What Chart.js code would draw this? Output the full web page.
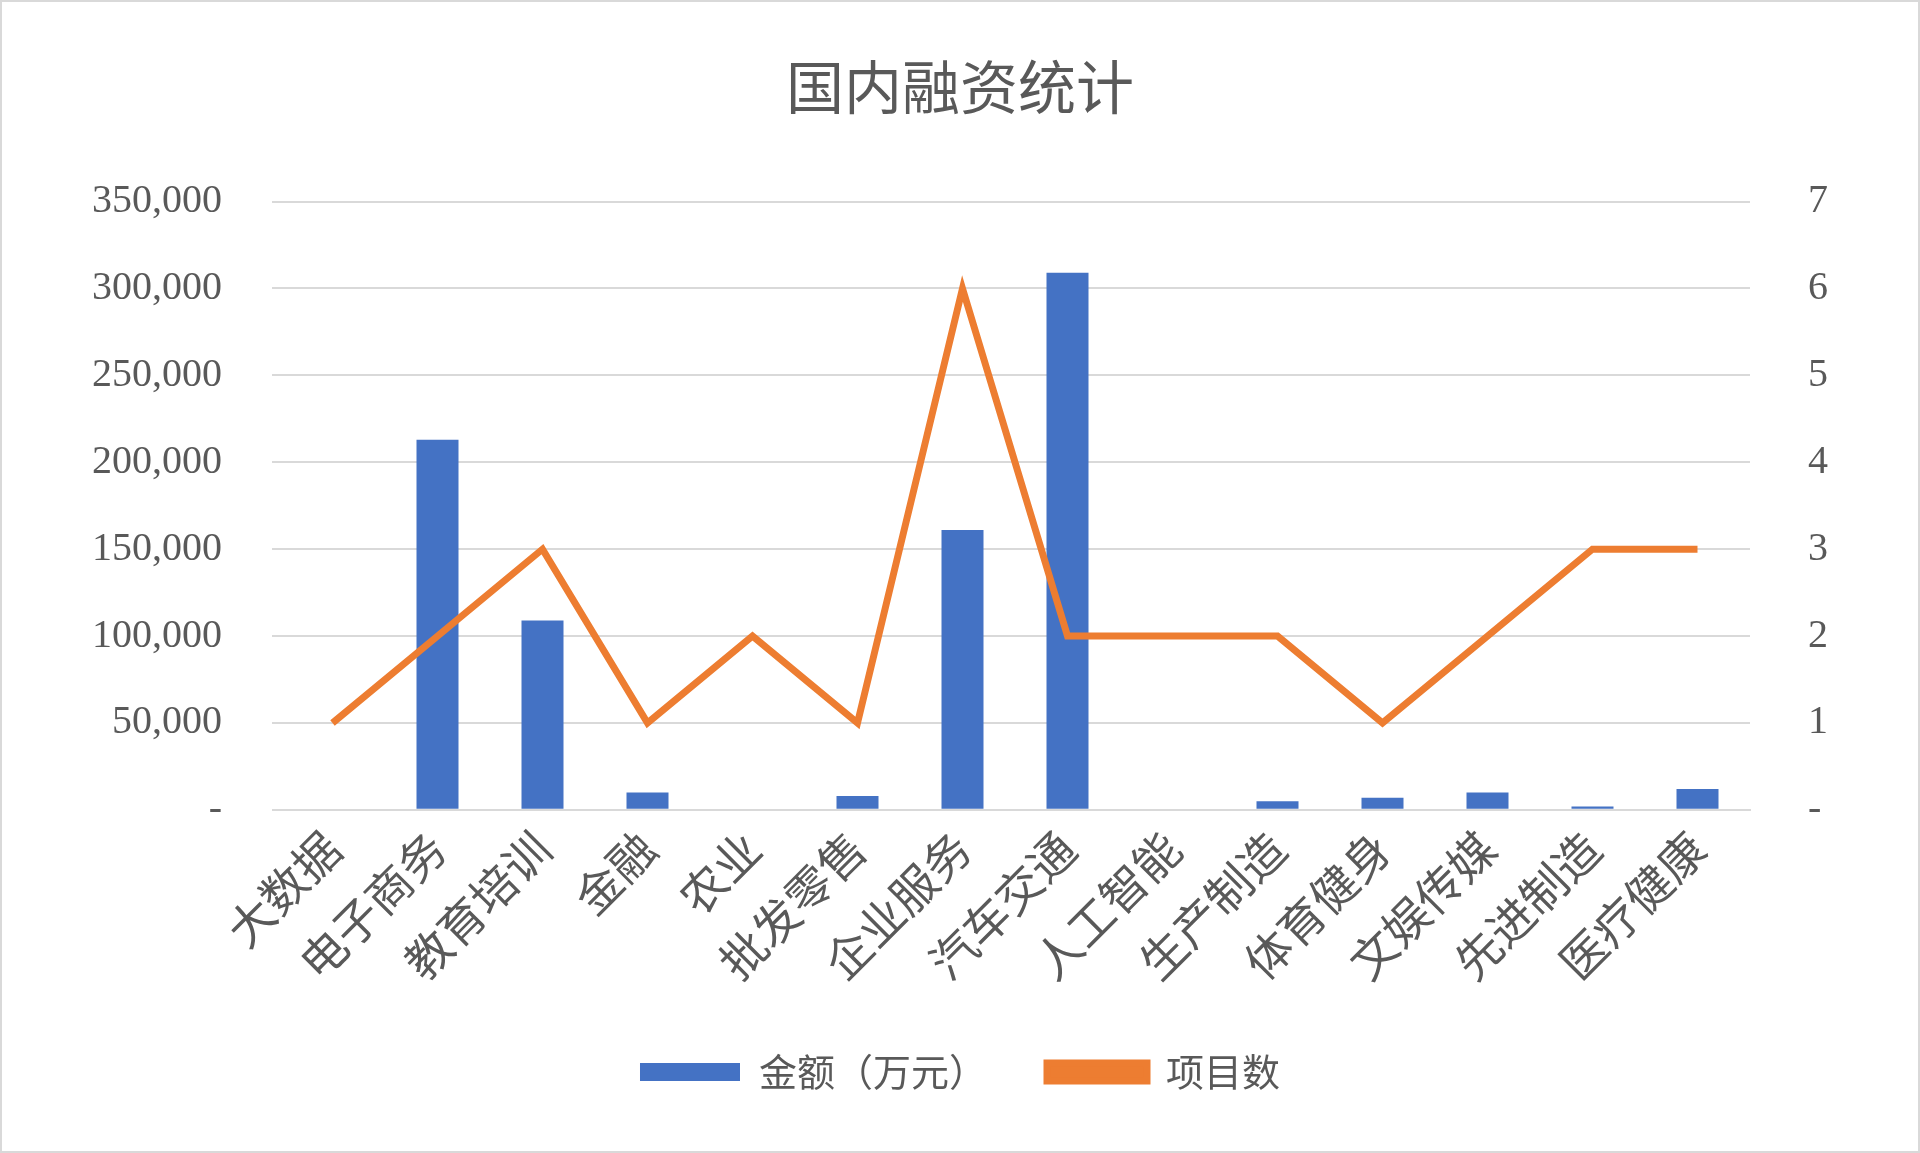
<!DOCTYPE html>
<html>
<head>
<meta charset="utf-8">
<script src="https://cdn.jsdelivr.net/npm/chart.js@4"></script>
<style>
  html, body { margin: 0; padding: 0; background: #fff; }
  #wrap { width: 1916px; height: 1149px; border: 2px solid #d9d9d9; }
</style>
</head>
<body>
<div id="wrap"><canvas id="chart" width="1916" height="1149"></canvas></div>
<script>
const categories = ['大数据', '电子商务', '教育培训', '金融', '农业', '批发零售', '企业服务', '汽车交通', '人工智能', '生产制造', '体育健身', '文娱传媒', '先进制造', '医疗健康'];
const amounts = [0, 213000, 109000, 10000, 0, 8000, 161000, 309000, 0, 5000, 7000, 10000, 2000, 12000];
const projects = [1, 2, 3, 1, 2, 1, 6, 2, 2, 2, 1, 2, 3, 3];

const fontFamily = '"Liberation Serif", "Noto Sans CJK SC", serif';
const gray = '#595959';

new Chart(document.getElementById('chart').getContext('2d'), {
    data: {
        labels: categories,
        datasets: [
            {
                type: 'line',
                label: '项目数',
                data: projects,
                yAxisID: 'y1',
                borderColor: '#ed7d31',
                backgroundColor: '#ed7d31',
                borderWidth: 7,
                pointRadius: 0,
                tension: 0,
                order: 0
            },
            {
                type: 'bar',
                label: '金额（万元）',
                data: amounts,
                yAxisID: 'y',
                backgroundColor: '#4472c4',
                categoryPercentage: 0.8,
                barPercentage: 0.5,
                order: 1
            }
        ]
    },
    options: {
        responsive: false,
        animation: false,
        layout: { padding: { left: 40, right: 40, top: 30, bottom: 50 } },
        plugins: {
            title: {
                display: true,
                text: '国内融资统计',
                color: gray,
                font: { family: '"Noto Sans CJK SC"', size: 58, weight: 'normal' },
                padding: { top: 20, bottom: 80 }
            },
            legend: {
                position: 'bottom',
                reverse: true,
                labels: {
                    color: gray,
                    font: { family: '"Noto Sans CJK SC"', size: 38 },
                    boxWidth: 100,
                    boxHeight: 18,
                    padding: 60
                }
            }
        },
        scales: {
            x: {
                grid: { display: false },
                border: { color: '#d9d9d9', width: 2 },
                ticks: {
                    color: gray,
                    font: { family: '"Noto Sans CJK SC"', size: 46 },
                    maxRotation: 45,
                    minRotation: 45
                }
            },
            y: {
                position: 'left',
                min: 0,
                max: 350000,
                border: { display: false },
                grid: { color: '#d9d9d9', lineWidth: 2 },
                ticks: {
                    stepSize: 50000,
                    color: gray,
                    padding: 50,
                    font: { family: fontFamily, size: 40 },
                    callback: v => v === 0 ? '-' : v.toLocaleString('en-US')
                }
            },
            y1: {
                position: 'right',
                min: 0,
                max: 7,
                border: { display: false },
                grid: { display: false },
                ticks: {
                    stepSize: 1,
                    color: gray,
                    padding: 50,
                    font: { family: fontFamily, size: 40 },
                    callback: v => v === 0 ? '-' : v
                }
            }
        }
    }
});
</script>
</body>
</html>
